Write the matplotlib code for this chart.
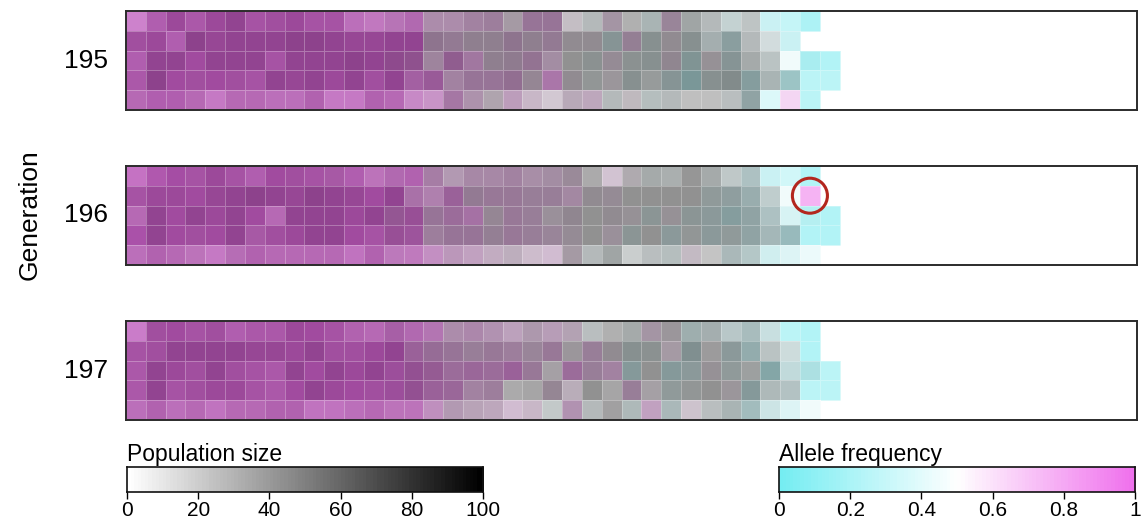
import numpy as np
import matplotlib
matplotlib.use("Agg")
import matplotlib.pyplot as plt
from matplotlib.colors import LinearSegmentedColormap
from matplotlib.patches import Ellipse

plt.rcParams['font.family'] = ['Liberation Sans', 'DejaVu Sans']

generations = ["195", "196", "197"]
n_rows = 5
n_cols = 51

# ---- population size per cell (rows top->bottom, columns left->right) ----
pop_195 = [
    [16,27,35,29,35,39,31,33,35,31,31,23,21,25,27,31,31,35,37,35,39,39,23,27,35,31,29,39,35,27,17,23,3,1,1],
    [33,35,27,41,37,39,39,39,41,41,39,37,37,39,39,43,41,43,43,43,43,41,43,43,41,41,43,43,43,31,37,27,13,3],
    [27,39,39,33,39,39,39,31,39,39,39,41,39,41,41,37,41,35,43,43,41,35,43,43,41,43,43,43,41,41,41,33,23,1,3,1],
    [29,41,33,33,33,33,31,39,37,39,35,39,33,39,33,37,35,39,39,41,41,31,43,41,39,43,39,41,39,43,45,37,29,21,1,1],
    [25,27,27,25,19,25,25,23,23,27,19,19,27,25,19,19,33,31,31,25,21,17,27,25,27,25,25,27,25,25,25,35,1,3,1],
]
freq_195 = [
    [.85,.94,1,.96,1,1,.97,.98,1,.97,.97,.89,.86,.85,.89,.68,.68,.69,.69,.56,.73,.73,.53,.47,.59,.5,.44,.63,.47,.47,.43,.47,.33,.30,.21],
    [.98,1,.94,1,1,1,1,1,1,1,1,1,1,1,1,.68,.67,.61,.61,.68,.61,.67,.54,.54,.40,.64,.43,.54,.43,.44,.37,.47,.45,.33],
    [.94,1,1,1,1,1,1,.97,1,1,1,1,1,.95,.91,.66,.84,.75,.61,.64,.71,.63,.5,.46,.57,.46,.43,.57,.36,.53,.40,.47,.45,.46,.21,.23],
    [.96,1,1,.98,1,.98,.97,1,1,1,1,1,.98,1,.89,.89,.69,.73,.73,.74,.60,.79,.54,.47,.53,.43,.47,.40,.30,.43,.43,.34,.44,.29,.26,.26],
    [.90,.94,.94,.90,.87,.90,.90,.89,.89,.92,.87,.87,.92,.90,.80,.75,.77,.65,.56,.66,.58,.55,.58,.61,.47,.53,.45,.47,.5,.5,.47,.38,.38,.62,.26],
]

pop_196 = [
    [19,27,31,31,35,31,27,33,33,31,31,27,23,27,27,33,29,33,33,35,33,35,39,33,17,31,33,31,41,33,21,23,3,1,1],
    [31,35,35,33,37,39,41,39,37,41,39,37,33,39,31,29,37,41,39,39,39,39,35,43,41,43,43,43,43,39,37,31,19,1,1],
    [25,39,33,39,35,39,33,25,39,39,39,35,39,39,37,39,37,33,41,39,39,39,43,43,43,41,41,41,41,39,37,35,23,3,3,1],
    [29,39,33,33,33,39,31,33,35,39,39,33,31,37,35,37,39,39,41,39,39,39,41,43,39,41,43,39,41,39,39,35,27,25,1,1],
    [23,27,25,23,19,25,27,25,25,25,25,21,27,23,22,21,25,23,23,25,19,17,35,27,35,19,25,25,23,23,27,21,5,3,1],
]
freq_196 = [
    [.90,.97,1,.97,1,.97,.94,1,.98,.97,.94,.94,.87,.89,.92,.74,.64,.68,.68,.69,.65,.63,.60,.5,.57,.53,.47,.47,.5,.47,.45,.39,.33,.34,.23],
    [.97,1,1,1,1,1,1,1,1,1,1,1,1,1,.82,.76,.85,.67,.70,.70,.67,.67,.66,.54,.57,.5,.5,.5,.5,.43,.40,.38,.43,.46,.76],
    [.90,1,1,1,1,1,1,.90,1,1,1,1,1,.90,.95,.73,.79,.80,.60,.70,.67,.57,.57,.5,.54,.53,.43,.53,.43,.40,.34,.38,.39,.38,.25,.23],
    [.99,1,1,.98,1,1,.94,.98,1,1,1,1,.97,.95,.94,.69,.73,.73,.64,.70,.67,.63,.57,.5,.57,.43,.5,.40,.47,.40,.43,.38,.39,.31,.23,.23],
    [.89,.92,.90,.87,.87,.88,.92,.90,.90,.90,.90,.88,.92,.84,.84,.76,.69,.66,.61,.58,.58,.60,.56,.47,.47,.48,.47,.45,.55,.5,.42,.40,.37,.40,.44],
]

pop_197 = [
    [17,33,33,31,33,27,29,29,35,33,31,27,25,31,27,27,31,31,29,25,31,27,29,25,31,33,35,39,31,31,21,25,11,1,1],
    [31,33,39,39,39,39,37,37,35,39,33,33,35,39,37,39,39,39,39,37,39,39,39,39,43,43,43,35,43,39,39,31,23,13,1],
    [29,39,35,33,39,33,31,29,39,33,39,35,39,35,39,39,37,37,37,37,39,35,37,39,35,39,43,39,39,41,39,37,33,13,9,1],
    [29,39,31,33,35,35,31,29,33,39,35,33,33,35,39,37,37,35,37,33,35,41,27,43,35,39,35,39,41,43,39,39,27,23,1,1],
    [23,27,23,25,21,25,25,27,27,21,21,23,25,23,23,23,29,27,25,17,21,21,29,27,37,27,23,27,19,25,29,25,9,3,1],
]
freq_197 = [
    [.87,.98,1,.97,.98,.94,.96,.96,1,1,.97,.92,.90,.91,.89,.83,.68,.71,.67,.64,.62,.64,.59,.47,.5,.47,.59,.53,.41,.44,.42,.39,.39,.26,.23],
    [.97,.98,1,1,1,1,1,1,1,1,.98,.98,1,1,.85,.77,.73,.67,.70,.69,.63,.70,.53,.67,.54,.43,.46,.56,.39,.5,.40,.35,.45,.43,.23],
    [.96,1,1,.98,1,.98,.97,.96,1,1,1,1,1,.97,.93,.87,.79,.82,.79,.85,.70,.53,.79,.67,.69,.37,.5,.37,.40,.53,.43,.48,.29,.38,.26,.26],
    [.96,1,.97,.98,1,1,.97,.96,1,1,1,1,.98,.97,.93,.85,.82,.69,.69,.5,.5,.60,.56,.5,.5,.67,.53,.43,.47,.5,.53,.37,.44,.42,.26,.26],
    [.89,.92,.89,.90,.88,.90,.90,.92,.92,.88,.88,.89,.90,.87,.87,.74,.64,.61,.61,.60,.58,.47,.67,.47,.5,.44,.66,.42,.55,.47,.44,.36,.39,.40,.46],
]

pop_data = [pop_195, pop_196, pop_197]
freq_data = [freq_195, freq_196, freq_197]

# highlighted cell: (generation index, row, column)
highlight = (1, 1, 34)

pop_ticks = [0, 20, 40, 60, 80, 100]
freq_ticks = [0, 0.2, 0.4, 0.6, 0.8, 1]
freq_ticklabels = ["0", "0.2", "0.4", "0.6", "0.8", "1"]

CYAN = (0.46, 0.93, 0.95)
MAGENTA = (0.94, 0.44, 0.93)
freq_cmap = LinearSegmentedColormap.from_list(
    "allele", [(0.0, CYAN), (0.5, (1, 1, 1)), (1.0, MAGENTA)])
pop_cmap = LinearSegmentedColormap.from_list("pop", [(1, 1, 1), (0, 0, 0)])


def to_grid(rows):
    g = np.full((n_rows, n_cols), np.nan)
    for i, r in enumerate(rows):
        g[i, :len(r)] = r
    return g


def cell_colors(pop, freq):
    P = to_grid(pop)
    F = to_grid(freq)
    rgb = freq_cmap(np.nan_to_num(F, nan=0.5))[..., :3]
    shade = 1 - np.nan_to_num(P, nan=0.0) / 100.0
    rgb = rgb * shade[..., None]
    alpha = (~np.isnan(P)).astype(float)
    return np.dstack([rgb, alpha])


W, H = 1142, 525
fig = plt.figure(figsize=(W / 100, H / 100), dpi=100)

panel_tops = [11, 166, 321]
panel_h = 99
left_px, right_px = 126, 1137

for gi, gen in enumerate(generations):
    top = panel_tops[gi]
    ax = fig.add_axes([left_px / W, 1 - (top + panel_h) / H,
                       (right_px - left_px) / W, panel_h / H])
    C = cell_colors(pop_data[gi], freq_data[gi])
    X = np.arange(n_cols + 1)
    Y = np.arange(n_rows + 1)
    ax.pcolormesh(X, Y, C, edgecolors=(1, 1, 1, 0.28), linewidth=0.6,
                  shading='flat')
    ax.set_xlim(0, n_cols)
    ax.set_ylim(n_rows, 0)
    ax.set_xticks([])
    ax.set_yticks([])
    for s in ax.spines.values():
        s.set_color('#2b2b2b')
        s.set_linewidth(1.4)
    fig.text(108 / W, 1 - (top + panel_h / 2) / H, gen, ha='right',
             va='center', fontsize=19)
    if gi == highlight[0]:
        r = 17.5 / 19.8
        ax.add_patch(Ellipse((highlight[2] + 0.5, highlight[1] + 0.5),
                             2 * r, 2 * r, fill=False, ec='#B3261E',
                             lw=2.2, clip_on=False, zorder=5))

fig.text(30 / W, 1 - 215 / H, "Generation", rotation=90, ha='center',
         va='center', fontsize=19)

# ---- colour bars ----
bar_w = 356
bar_h = 25
bar_bottom = 492
grad = np.linspace(0, 1, 100)[None, :]

cax1 = fig.add_axes([127 / W, 1 - bar_bottom / H, bar_w / W, bar_h / H])
cax1.imshow(grad, cmap=pop_cmap, aspect='auto', extent=[0, 100, 0, 1],
            interpolation='nearest')
cax1.set_xlim(0, 100)
cax1.set_xticks(pop_ticks)
cax1.set_xticklabels([str(t) for t in pop_ticks])
cax1.set_yticks([])
cax1.tick_params(axis='x', direction='out', length=5, width=1,
                 labelsize=15, pad=1.5)
cax1.text(0, 1.02, "Population size", transform=cax1.transAxes,
          ha='left', va='bottom', fontsize=16.5)

cax2 = fig.add_axes([779 / W, 1 - bar_bottom / H, bar_w / W, bar_h / H])
cax2.imshow(grad, cmap=freq_cmap, aspect='auto', extent=[0, 1, 0, 1],
            interpolation='nearest')
cax2.set_xlim(0, 1)
cax2.set_xticks(freq_ticks)
cax2.set_xticklabels(freq_ticklabels)
cax2.set_yticks([])
cax2.tick_params(axis='x', direction='out', length=5, width=1,
                 labelsize=15, pad=1.5)
cax2.text(0, 1.02, "Allele frequency", transform=cax2.transAxes,
          ha='left', va='bottom', fontsize=16.5)

for cax in (cax1, cax2):
    for s in cax.spines.values():
        s.set_color('#111111')
        s.set_linewidth(1.2)

fig.savefig("out.png", dpi=100)
